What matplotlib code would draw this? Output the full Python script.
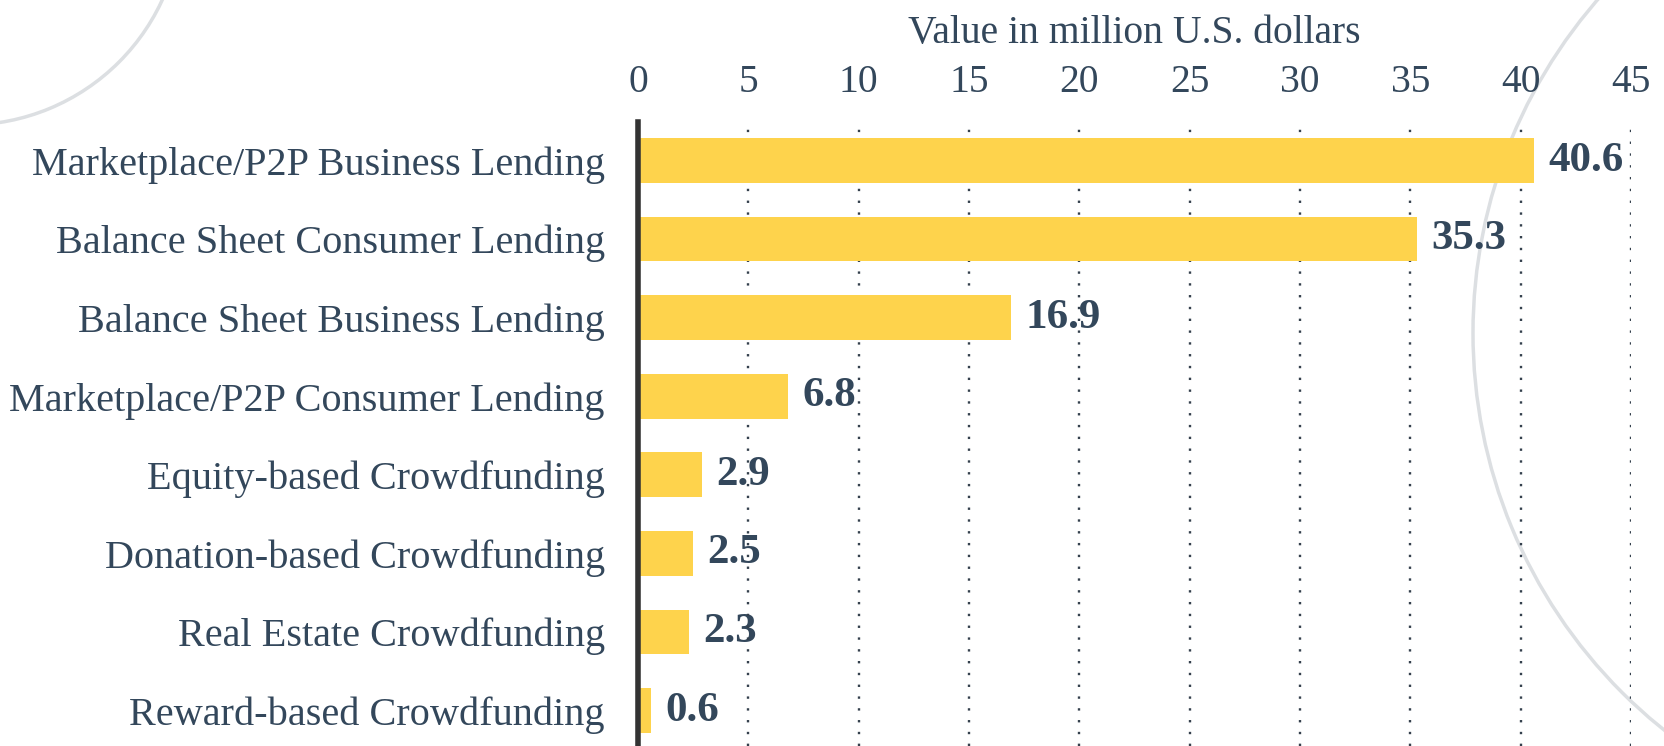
import matplotlib
matplotlib.use("Agg")
import matplotlib.pyplot as plt
from matplotlib.patches import Arc

categories = [
    "Marketplace/P2P Business Lending",
    "Balance Sheet Consumer Lending",
    "Balance Sheet Business Lending",
    "Marketplace/P2P Consumer Lending",
    "Equity-based Crowdfunding",
    "Donation-based Crowdfunding",
    "Real Estate Crowdfunding",
    "Reward-based Crowdfunding",
]
values = [40.6, 35.3, 16.9, 6.8, 2.9, 2.5, 2.3, 0.6]
xticks = [0, 5, 10, 15, 20, 25, 30, 35, 40, 45]
axis_title = "Value in million U.S. dollars"

W, H = 1664, 746
fig = plt.figure(figsize=(W / 100, H / 100), dpi=100)
fig.patch.set_facecolor("white")

txt = "#33475b"
bar_c = "#fed34c"
font = "Liberation Serif"

# decorative faint arcs in the background
bg = fig.add_axes([0, 0, 1, 1], zorder=-5)
bg.set_xlim(0, W)
bg.set_ylim(H, 0)
bg.axis("off")
bg.add_patch(Arc((-33, -90), 2 * 215, 2 * 215, color="#dcdfe2", lw=2.5))
bg.add_patch(Arc((1981, 333), 2 * 508, 2 * 508, color="#dcdfe2", lw=2.5))

ax = fig.add_axes([638 / W, 0, (1631 - 638) / W, 1 - 122 / H])
ax.patch.set_alpha(0)
y = list(range(len(categories)))
ax.barh(y, values, height=0.57, color=bar_c, zorder=3)
ax.set_xlim(0, 45)
ax.set_ylim(7.45, -0.49)

ax.xaxis.tick_top()
ax.xaxis.set_label_position("top")
ax.set_xticks(xticks)
ax.set_xticklabels([str(t) for t in xticks], fontsize=28.5, color=txt, family=font)
ax.set_xlabel(axis_title, fontsize=28.5, color=txt, family=font, labelpad=15)
ax.tick_params(axis="x", length=0, pad=15)

ax.set_yticks(y)
ax.set_yticklabels(categories, fontsize=29, color=txt, family=font)
ax.tick_params(axis="y", length=0, pad=24)

for s in ["top", "right", "bottom"]:
    ax.spines[s].set_visible(False)
ax.spines["left"].set_color("#333333")
ax.spines["left"].set_linewidth(4)
ax.spines["left"].set_zorder(4)

for t in xticks[1:]:
    ax.axvline(t, color="#34404d", lw=1.7, ls=(0, (1, 4.0)), zorder=2)

for yi, v in zip(y, values):
    ax.text(v + 0.65, yi, f"{v}", va="center", ha="left", fontsize=31,
            color=txt, family=font, fontweight="bold", zorder=1)

fig.savefig("out.png", dpi=100, facecolor="white")
